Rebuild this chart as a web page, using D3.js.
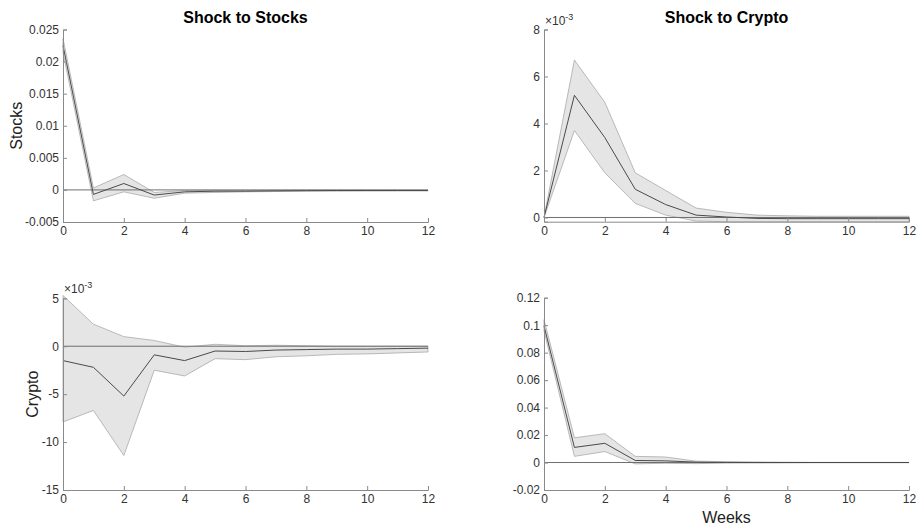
<!DOCTYPE html>
<html>
<head>
<meta charset="utf-8">
<script src="https://cdn.jsdelivr.net/npm/d3@7"></script>
<style>
  body { margin: 0; background: #fff; }
  svg text { font-family: "Liberation Sans", Arial, sans-serif; }
</style>
</head>
<body>
<svg id="chart" width="920" height="527"></svg>
<script>
// horizon in weeks
const weeks = d3.range(0, 13);

// Stocks response to a stock shock
const ssMean  = [0.0225, -0.0007, 0.0010, -0.0008, -0.0003, -0.0002, -0.0002, -0.00015, -0.00012, -0.0001, -0.0001, -0.0001, -0.0001];
const ssUpper = [0.0236, 0.0003, 0.0024, -0.0004, -0.0001, -0.0001, -0.0001, -0.00008, -0.00006, -0.00005, -0.00005, -0.00005, -0.00005];
const ssLower = [0.0214, -0.0017, -0.0003, -0.0013, -0.0005, -0.0004, -0.0003, -0.00025, -0.0002, -0.00018, -0.00016, -0.00015, -0.00015];

// Stocks response to a crypto shock (x 1e-3)
const scMean  = [0, 5.2, 3.4, 1.2, 0.55, 0.1, 0.02, -0.04, -0.05, -0.05, -0.05, -0.05, -0.05];
const scUpper = [0, 6.7, 4.9, 1.9, 1.15, 0.4, 0.22, 0.1, 0.07, 0.05, 0.05, 0.05, 0.05];
const scLower = [0, 3.7, 1.9, 0.6, 0.1, -0.15, -0.18, -0.18, -0.18, -0.18, -0.18, -0.18, -0.18];

// Crypto response to a stock shock (x 1e-3)
const csMean  = [-1.5, -2.2, -5.2, -0.9, -1.5, -0.5, -0.55, -0.4, -0.35, -0.3, -0.3, -0.25, -0.2];
const csUpper = [5.3, 2.3, 1.0, 0.6, -0.1, 0.2, 0.05, 0.1, 0.05, 0.0, 0.0, 0.0, 0.0];
const csLower = [-7.9, -6.7, -11.4, -2.5, -3.1, -1.3, -1.4, -1.1, -1.0, -0.85, -0.8, -0.7, -0.6];

// Crypto response to a crypto shock
const ccMean  = [0.0995, 0.011, 0.014, 0.0015, 0.0012, 0.0003, 0.0001, 0, 0, 0, 0, 0, 0];
const ccUpper = [0.104, 0.018, 0.021, 0.0045, 0.004, 0.001, 0.0006, 0.0004, 0.0002, 0.0001, 0.0001, 0.0001, 0.0001];
const ccLower = [0.096, 0.0045, 0.008, -0.001, -0.0005, -0.0008, -0.0004, -0.0003, -0.0002, -0.0001, -0.0001, -0.0001, -0.0001];

const xTicks = [0, 2, 4, 6, 8, 10, 12];

const panels = [
  { title: "Shock to Stocks", ylabel: "Stocks", mean: ssMean, upper: ssUpper, lower: ssLower,
    domain: [-0.005, 0.025], ticks: [-0.005, 0, 0.005, 0.01, 0.015, 0.02, 0.025], fmt: d => d === 0 ? "0" : String(d),
    left: 63, right: 428, top: 29.5, bottom: 222, exp: false },
  { title: "Shock to Crypto", ylabel: null, mean: scMean, upper: scUpper, lower: scLower,
    domain: [-0.18, 8], ticks: [0, 2, 4, 6, 8], fmt: d => String(d),
    left: 544, right: 909, top: 29.5, bottom: 221.7, exp: true },
  { title: null, ylabel: "Crypto", mean: csMean, upper: csUpper, lower: csLower,
    domain: [-15, 5], ticks: [-15, -10, -5, 0, 5], fmt: d => String(d),
    left: 63, right: 428, top: 298.3, bottom: 490, exp: true },
  { title: null, ylabel: null, mean: ccMean, upper: ccUpper, lower: ccLower,
    domain: [-0.02, 0.12], ticks: [-0.02, 0, 0.02, 0.04, 0.06, 0.08, 0.1, 0.12], fmt: d => d === 0 ? "0" : String(d),
    left: 544, right: 909, top: 297.7, bottom: 490, exp: false, xlabel: "Weeks" }
];

const svg = d3.select("#chart");
const axisColor = "#8a8a8a";
const textColor = "#333";

panels.forEach(p => {
  const x = d3.scaleLinear().domain([0, 12]).range([p.left, p.right]);
  const y = d3.scaleLinear().domain(p.domain).range([p.bottom, p.top]);
  const g = svg.append("g");

  // confidence band
  const area = d3.area()
    .x((d, i) => x(weeks[i]))
    .y0((d, i) => y(p.lower[i]))
    .y1((d, i) => y(p.upper[i]));
  g.append("path")
    .datum(weeks)
    .attr("d", area)
    .attr("fill", "#e5e5e5")
    .attr("stroke", "#a9a9a9")
    .attr("stroke-width", 0.8);

  // zero line
  g.append("line")
    .attr("x1", x(0)).attr("x2", x(12))
    .attr("y1", y(0)).attr("y2", y(0))
    .attr("stroke", "#6e6e6e")
    .attr("stroke-width", 1);

  // point estimate
  const line = d3.line()
    .x((d, i) => x(weeks[i]))
    .y((d, i) => y(p.mean[i]));
  g.append("path")
    .datum(weeks)
    .attr("d", line)
    .attr("fill", "none")
    .attr("stroke", "#4a4a4a")
    .attr("stroke-width", 1);

  // axes, ticks pointing inward
  const xAxis = g.append("g")
    .attr("transform", `translate(0,${p.bottom})`)
    .call(d3.axisBottom(x).tickValues(xTicks).tickSize(-4).tickPadding(4).tickFormat(d3.format("d")));
  const yAxis = g.append("g")
    .attr("transform", `translate(${p.left},0)`)
    .call(d3.axisLeft(y).tickValues(p.ticks).tickSize(-4).tickPadding(4).tickFormat(p.fmt));

  [xAxis, yAxis].forEach(a => {
    a.select(".domain").attr("stroke", axisColor);
    a.selectAll(".tick line").attr("stroke", axisColor);
    a.selectAll(".tick text").attr("fill", textColor).style("font-size", "12px");
  });
  xAxis.selectAll(".tick text").attr("dy", "0.75em");

  if (p.exp) {
    const t = g.append("text")
      .attr("x", p.left + 1)
      .attr("y", p.top - 5)
      .attr("fill", textColor)
      .style("font-size", "12px");
    t.append("tspan").text("\u00d710");
    t.append("tspan").attr("dy", -5).style("font-size", "9px").text("-3");
  }

  if (p.title) {
    g.append("text")
      .attr("x", (p.left + p.right) / 2)
      .attr("y", 23)
      .attr("text-anchor", "middle")
      .attr("fill", "#000")
      .style("font-size", "16px")
      .style("font-weight", "bold")
      .text(p.title);
  }

  if (p.ylabel) {
    const lx = p.ylabel === "Stocks" ? 22 : 38;
    g.append("text")
      .attr("transform", `translate(${lx},${(p.top + p.bottom) / 2}) rotate(-90)`)
      .attr("text-anchor", "middle")
      .attr("fill", "#222")
      .style("font-size", "16px")
      .text(p.ylabel);
  }

  if (p.xlabel) {
    g.append("text")
      .attr("x", (p.left + p.right) / 2)
      .attr("y", 523)
      .attr("text-anchor", "middle")
      .attr("fill", "#222")
      .style("font-size", "16px")
      .text(p.xlabel);
  }
});
</script>
</body>
</html>
